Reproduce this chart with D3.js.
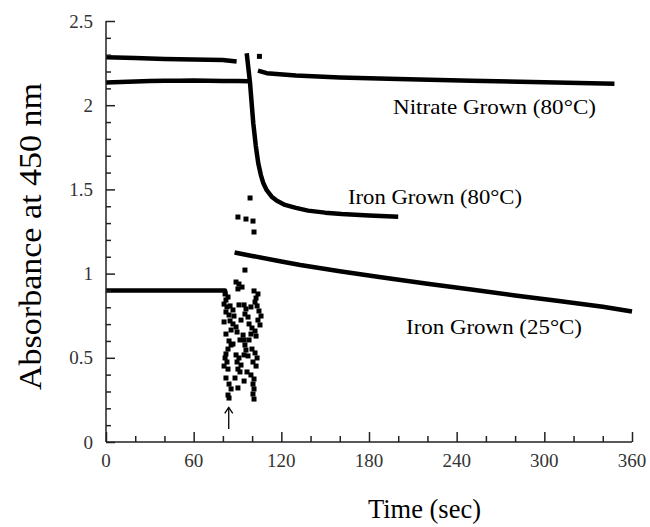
<!DOCTYPE html>
<html><head><meta charset="utf-8">
<script src="https://cdn.jsdelivr.net/npm/d3@7"></script>
<style>body{margin:0;background:#fff}svg{display:block}text{font-family:"Liberation Serif","Times New Roman",serif}</style>
</head><body><svg id="c" width="650" height="527"></svg>
<script>
// ---- data ----
const xTicks = [0, 60, 120, 180, 240, 300, 360];
const yTicks = [0, 0.5, 1, 1.5, 2, 2.5];
const yTickLabels = ["0", "0.5", "1", "1.5", "2", "2.5"];

const nitratePreT = [0, 20, 40, 60, 80, 89.4];
const nitratePreV = [2.285, 2.281, 2.275, 2.272, 2.268, 2.26];
const nitratePostT = [104, 110, 130, 160, 200, 250, 300, 348];
const nitratePostV = [2.205, 2.19, 2.177, 2.165, 2.155, 2.145, 2.137, 2.127];
const nitrateStrayT = [105];
const nitrateStrayV = [2.29];

const iron80PreT = [0, 10, 20, 30, 40, 50, 60, 70, 80, 90, 98];
const iron80PreV = [2.135, 2.138, 2.14, 2.143, 2.145, 2.145, 2.146, 2.145, 2.144, 2.143, 2.142];
const iron80PostT = [96.3, 98.6, 100.8, 102.5, 104.2, 106, 107.7, 110, 113.4, 117, 122.5, 130, 138.3, 150, 161.3, 180, 200];
const iron80PostV = [2.308, 2.13, 1.893, 1.76, 1.655, 1.585, 1.536, 1.495, 1.457, 1.432, 1.408, 1.39, 1.374, 1.362, 1.354, 1.345, 1.338];

const iron25PreT = [0, 40, 81.5, 81.8];
const iron25PreV = [0.9, 0.9, 0.9, 0.87];
const iron25PostT = [88, 100, 120, 133, 160, 187, 220, 250, 280, 310, 340, 360];
const iron25PostV = [1.125, 1.105, 1.072, 1.051, 1.014, 0.98, 0.94, 0.905, 0.87, 0.837, 0.803, 0.775];

// scattered points during mixing (time, absorbance), read point by point
const scatterT = [
  98.6, 90.3, 95.8, 100.6, 101.3, 95.1,
  89.0, 91.0, 93.1, 90.3, 81.5, 83.5, 82.1, 101.3, 104.0, 102.7,
  80.8, 82.8, 84.9, 86.9, 82.1, 84.2, 87.6, 94.5, 95.8, 95.1, 97.2,
  102.0, 103.4, 104.7, 106.1, 104.0, 105.4,
  84.9, 86.9, 89.0, 85.6, 89.7, 97.9, 99.9, 102.0, 99.2, 102.7,
  84.2, 85.6, 83.5, 93.8, 94.5, 95.1, 95.8, 94.5,
  99.9, 102.0, 103.4, 100.6, 102.7,
  82.1, 81.5, 82.8, 80.8, 83.5,
  89.0, 91.0, 89.7, 92.4, 90.3, 91.7,
  99.2, 101.3, 84.2, 85.6, 90.3,
  100.6, 101.3, 100.6, 101.3, 83.5, 84.2,
  86.9, 91.7, 97.2, 88.3, 96.5, 97.9, 82.1, 80.8, 92.4, 91.0, 99.2, 94.5, 82.1
];
const scatterV = [
  1.449, 1.336, 1.324, 1.312, 1.247, 1.021,
  0.950, 0.938, 0.920, 0.909, 0.879, 0.861, 0.843, 0.897, 0.879, 0.855,
  0.819, 0.802, 0.808, 0.784, 0.772, 0.754, 0.748, 0.814, 0.790, 0.760, 0.742,
  0.831, 0.808, 0.778, 0.748, 0.724, 0.695,
  0.719, 0.701, 0.683, 0.665, 0.653, 0.701, 0.677, 0.659, 0.641, 0.629,
  0.600, 0.576, 0.552, 0.635, 0.606, 0.576, 0.546, 0.517,
  0.552, 0.529, 0.499, 0.475, 0.451,
  0.523, 0.499, 0.475, 0.451, 0.433,
  0.517, 0.499, 0.475, 0.457, 0.433, 0.416,
  0.398, 0.374, 0.344, 0.315, 0.321,
  0.344, 0.315, 0.285, 0.255, 0.279, 0.261,
  0.582, 0.606, 0.511, 0.380, 0.416, 0.606, 0.641, 0.713, 0.724, 0.814, 0.802, 0.362, 0.380
];

const seriesLabels = ["Nitrate Grown (80°C)", "Iron Grown (80°C)", "Iron Grown (25°C)"];
const xTitle = "Time (sec)";
const yTitle = "Absorbance at 450 nm";

// ---- drawing ----
const svg = d3.select("#c");
const x = d3.scaleLinear().domain([0, 360]).range([106, 632]);
const y = d3.scaleLinear().domain([0, 2.5]).range([442, 21]);

const zip = (T, V) => T.map((t, i) => [t, V[i]]);
const line = d3.line().x(d => x(d[0])).y(d => y(d[1]));

const thick = 4.5;
[[nitratePreT, nitratePreV], [nitratePostT, nitratePostV],
 [iron80PreT, iron80PreV], [iron80PostT, iron80PostV],
 [iron25PreT, iron25PreV], [iron25PostT, iron25PostV]].forEach(([T, V]) => {
  svg.append("path").datum(zip(T, V)).attr("d", line)
    .attr("fill", "none").attr("stroke", "#000").attr("stroke-width", thick)
    .attr("stroke-linejoin", "round");
});

const pts = zip(scatterT, scatterV).concat(zip(nitrateStrayT, nitrateStrayV));
svg.append("g").selectAll("rect").data(pts).join("rect")
  .attr("x", d => x(d[0]) - 2.5).attr("y", d => y(d[1]) - 2.5)
  .attr("width", 5).attr("height", 5).attr("fill", "#000");

// axes
const axisColor = "#222";
const gx = svg.append("g").attr("transform", `translate(0,${y(0)})`)
  .call(d3.axisBottom(x).tickValues(d3.range(0, 361, 20)).tickSize(-6).tickFormat(""));
gx.selectAll(".tick line").attr("stroke", axisColor).attr("stroke-width", 1.5)
  .filter(d => d % 60 === 0).attr("y2", -10);
gx.select(".domain").attr("stroke", axisColor).attr("stroke-width", 1.5).attr("d", `M${x(0)},0H${x(360)}`);

const gy = svg.append("g").attr("transform", `translate(${x(0)},0)`)
  .call(d3.axisLeft(y).tickValues(d3.range(0, 26).map(i => i / 10)).tickSize(-5).tickFormat(""));
gy.selectAll(".tick line").attr("stroke", axisColor).attr("stroke-width", 1.5)
  .filter(d => Math.abs(d * 2 - Math.round(d * 2)) < 1e-6).attr("x2", 9);
gy.select(".domain").attr("stroke", axisColor).attr("stroke-width", 1.5).attr("d", `M0,${y(0)}V${y(2.5)}`);

// tick labels
svg.append("g").selectAll("text").data(xTicks).join("text")
  .attr("x", d => x(d)).attr("y", 467).attr("text-anchor", "middle")
  .attr("font-size", 19).attr("fill", "#333").text(d => d);
svg.append("g").selectAll("text").data(yTicks).join("text")
  .attr("x", 93).attr("y", d => y(d)).attr("dy", "0.35em").attr("text-anchor", "end")
  .attr("font-size", 19).attr("fill", "#333").text((d, i) => yTickLabels[i]);

// titles
svg.append("text").attr("x", 368).attr("y", 518).attr("font-size", 27)
  .attr("textLength", 113).attr("lengthAdjust", "spacingAndGlyphs").text(xTitle);
svg.append("text").attr("transform", "translate(41,390) rotate(-90)").attr("font-size", 31)
  .attr("textLength", 307).attr("lengthAdjust", "spacingAndGlyphs").text(yTitle);

// series labels
const labelPos = [[393, 114, 203], [348, 204, 174], [406, 334, 176]];
labelPos.forEach(([lx, ly, lw], i) => {
  svg.append("text").attr("x", lx).attr("y", ly).attr("font-size", 21)
    .attr("textLength", lw).attr("lengthAdjust", "spacingAndGlyphs").text(seriesLabels[i]);
});

// injection arrow
const ax = x(84);
svg.append("line").attr("x1", ax).attr("x2", ax).attr("y1", y(0.077)).attr("y2", y(0.205))
  .attr("stroke", "#000").attr("stroke-width", 1.3);
svg.append("path").attr("d", `M${ax - 4},${y(0.205) + 6}L${ax},${y(0.205)}L${ax + 4},${y(0.205) + 6}`)
  .attr("fill", "none").attr("stroke", "#000").attr("stroke-width", 1.3);
</script></body></html>
